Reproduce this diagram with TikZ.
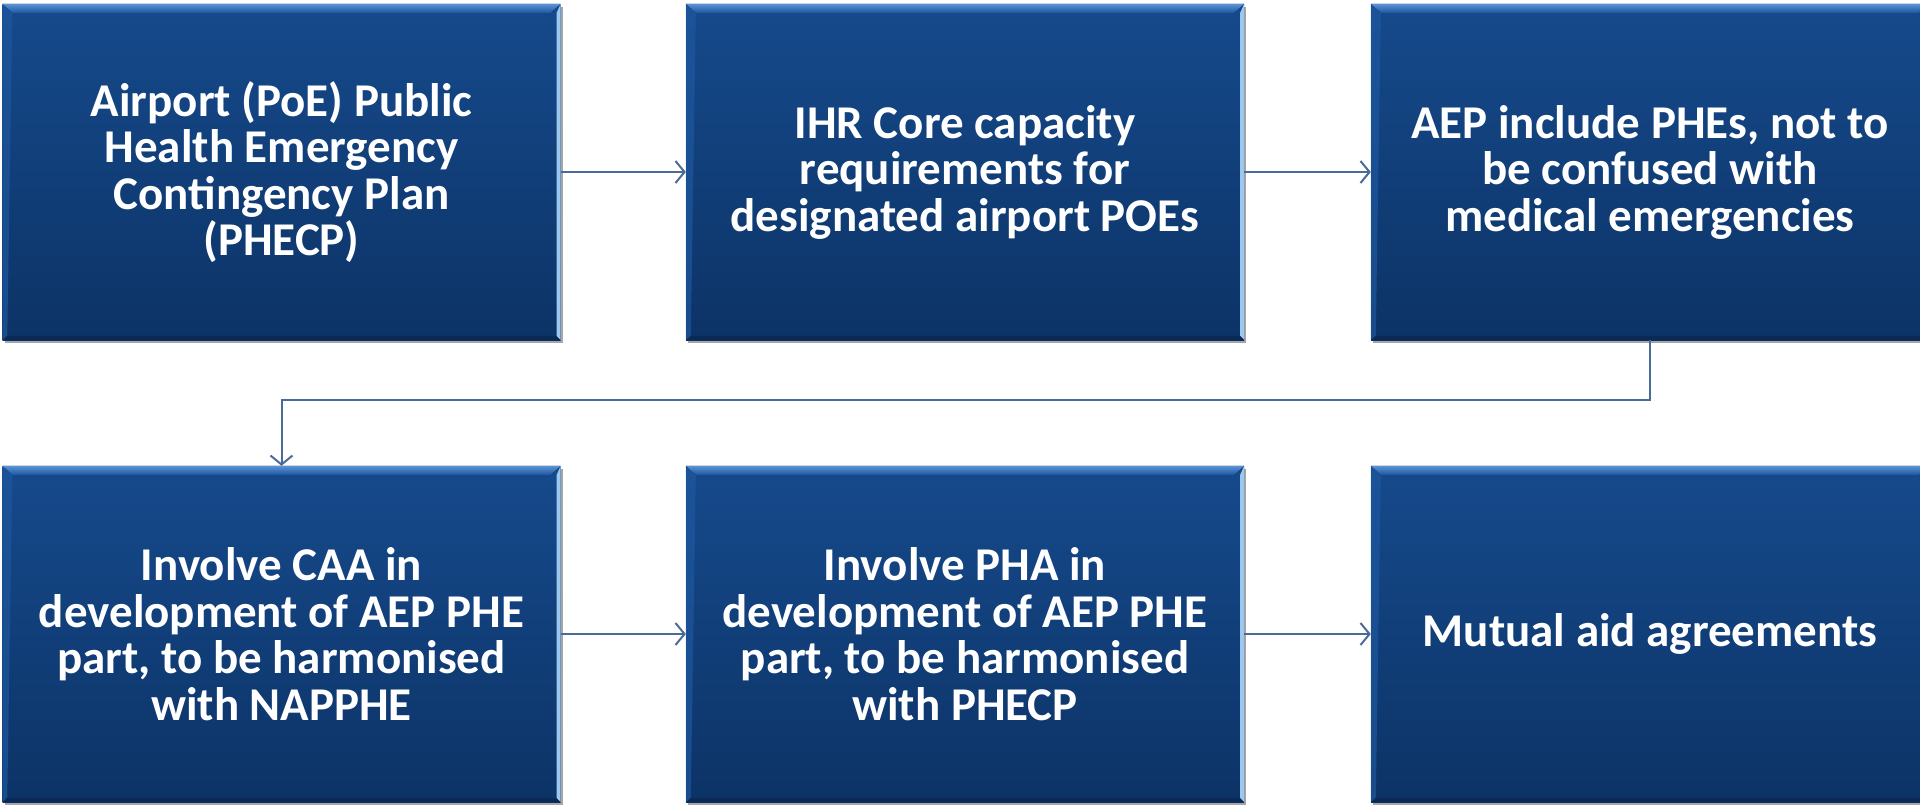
\documentclass[tikz,border=0pt]{standalone}
\usepackage{fontspec}
\setmainfont{Carlito}
\usetikzlibrary{shadows,arrows.meta,calc}
\definecolor{btop}{HTML}{164A8C}
\definecolor{bbot}{HTML}{0C3366}
\definecolor{arr}{HTML}{4A6A98}
\definecolor{bevhi}{HTML}{5A93D6}
\definecolor{bevlo}{HTML}{1E579E}
\definecolor{bevright}{HTML}{9CC8F0}
\definecolor{bevbot}{HTML}{0A2A55}
\tikzset{
 box/.style={minimum width=558pt, minimum height=336pt, inner sep=0pt,
   top color=btop, bottom color=bbot, draw=none, text=white,
   font=\fontsize{47}{46.5}\selectfont\bfseries, align=center,
   drop shadow={shadow xshift=2pt, shadow yshift=-3pt, opacity=0.35, fill=black}},
 link/.style={draw=arr, line width=2pt,
   -{Straight Barb[length=9pt,width=22pt,line width=2pt]}},
 bevtop/.style={top color=bevhi, bottom color=bevlo},
}
\begin{document}
\begin{tikzpicture}[x=1pt,y=-1pt]
\useasboundingbox (0,0) rectangle (1920,807);
\clip (0,0) rectangle (1920,807);
\node[box] (a) at (281.5,172) {Airport (PoE) Public\\Health Emergency\\Contingency Plan\\(PHECP)};
\node[box] (b) at (965,172) {IHR Core capacity\\requirements for\\designated airport POEs};
\node[box] (c) at (1650,172) {AEP include PHEs, not to\\be confused with\\medical emergencies};
\node[box] (d) at (281.5,634) {Involve CAA in\\development of AEP PHE\\part, to be harmonised\\with NAPPHE};
\node[box] (e) at (965,634) {Involve PHA in\\development of AEP PHE\\part, to be harmonised\\with PHECP};
\node[box] (f) at (1650,634) {Mutual aid agreements};
\foreach \n in {a,b,c,d,e,f}{
  \fill[bevtop] (\n.north west) -- (\n.north east) -- ($(\n.north east)+(-10,9)$) -- ($(\n.north west)+(10,9)$) -- cycle;
  \fill[bevright] (\n.north east) -- (\n.south east) -- ($(\n.south east)+(-4,-4)$) -- ($(\n.north east)+(-4,9)$) -- cycle;
  \fill[bevlo, opacity=0.7] (\n.north west) -- ($(\n.north west)+(10,9)$) -- ($(\n.south west)+(5,-5)$) -- (\n.south west) -- cycle;
  \fill[bevbot] (\n.south west) -- (\n.south east) -- ($(\n.south east)+(-4,-4)$) -- ($(\n.south west)+(5,-4)$) -- cycle;
}
\draw[link] (a.east) -- (b.west);
\draw[link] (b.east) -- (c.west);
\draw[link] (c.south) -- ++(0,60) -| (d.north);
\draw[link] (d.east) -- (e.west);
\draw[link] (e.east) -- (f.west);
\end{tikzpicture}
\end{document}
